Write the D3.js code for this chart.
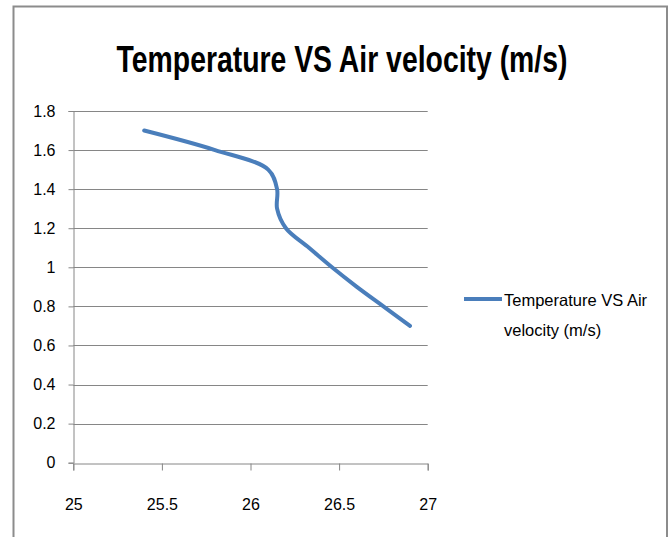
<!DOCTYPE html>
<html>
<head>
<meta charset="utf-8">
<script src="https://cdn.jsdelivr.net/npm/d3@7"></script>
<style>
  html, body { margin: 0; padding: 0; background: #fff; }
  svg { display: block; }
  text { font-family: "Liberation Sans", Arial, sans-serif; fill: #000; }
</style>
</head>
<body>
<svg id="chart" width="669" height="537"></svg>
<script>
const chartTitle = "Temperature VS Air velocity (m/s)";
const seriesName = "Temperature VS Air velocity (m/s)";
const legendLines = ["Temperature VS Air", "velocity (m/s)"];
const temperature = [25.4, 25.8, 26.1, 26.15, 26.15, 26.2, 26.33, 26.46, 26.6, 26.75, 26.9];
const airVelocity = [1.7, 1.6, 1.5, 1.4, 1.3, 1.2, 1.1, 1.0, 0.9, 0.8, 0.7];
const xTicks = [25, 25.5, 26, 26.5, 27];
const yTicks = [0, 0.2, 0.4, 0.6, 0.8, 1, 1.2, 1.4, 1.6, 1.8];

const svg = d3.select("#chart");
const plot = { left: 73.3, right: 427.7, top: 111, bottom: 462.7 };
const lineColor = "#4a7ebb";
const gridColor = "#868686";
const tickFont = "\"Liberation Sans\", Arial, sans-serif";

// outer chart border
svg.append("rect")
  .attr("x", 13.5).attr("y", 6.5)
  .attr("width", 653.5).attr("height", 540)
  .attr("fill", "#fff")
  .attr("stroke", "#8c8c8c").attr("stroke-width", 2);

const x = d3.scaleLinear().domain([25, 27]).range([plot.left, plot.right]);
const y = d3.scaleLinear().domain([0, 1.8]).range([plot.bottom, plot.top]);

// title (narrow, tall lettering like the reference)
const tg = svg.append("g");
const tt = tg.append("text")
  .attr("x", 0).attr("y", 0)
  .attr("text-anchor", "middle")
  .attr("font-size", 30)
  .attr("font-weight", "bold")
  .text(chartTitle);
const tLen = tt.node().getComputedTextLength();
tg.attr("transform", `translate(342,72) scale(${451 / tLen},1.26)`);

// gridlines
svg.append("g").selectAll("line")
  .data(yTicks.filter(d => d > 0))
  .join("line")
  .attr("x1", plot.left).attr("x2", plot.right)
  .attr("y1", d => Math.round(y(d)) + 0.5).attr("y2", d => Math.round(y(d)) + 0.5)
  .attr("stroke", gridColor).attr("stroke-width", 1);

// y axis
const yAxis = d3.axisLeft(y).tickValues(yTicks).tickSize(5).tickPadding(13)
  .tickFormat(d => String(d));
const gy = svg.append("g").attr("transform", `translate(${Math.round(plot.left) + 0.5},0)`).call(yAxis);
gy.select(".domain").attr("stroke", gridColor);
gy.selectAll(".tick line").attr("stroke", gridColor);
gy.selectAll(".tick text").attr("font-size", 16).attr("fill", "#000").attr("font-family", tickFont);

// x axis
const xAxis = d3.axisBottom(x).tickValues(xTicks).tickSize(7).tickPadding(28)
  .tickFormat(d => String(d));
const gx = svg.append("g").attr("transform", `translate(0,${Math.round(plot.bottom) + 0.5})`).call(xAxis);
gx.select(".domain").attr("stroke", gridColor);
gx.selectAll(".tick line").attr("stroke", gridColor);
gx.selectAll(".tick text").attr("font-size", 16).attr("fill", "#000").attr("font-family", tickFont);

// series line (smoothed like the spreadsheet chart)
const pts = temperature.map((t, i) => [t, airVelocity[i]]);
const line = d3.line()
  .x(d => x(d[0])).y(d => y(d[1]))
  .curve(d3.curveCatmullRom.alpha(0.5));
svg.append("path")
  .datum(pts)
  .attr("d", line)
  .attr("fill", "none")
  .attr("stroke", lineColor)
  .attr("stroke-width", 4)
  .attr("stroke-linecap", "round")
  .attr("stroke-linejoin", "round");

// legend
const lg = svg.append("g").attr("transform", "translate(464,299)");
lg.append("line").attr("x1", 0).attr("x2", 38).attr("y1", 0).attr("y2", 0)
  .attr("stroke", lineColor).attr("stroke-width", 4);
lg.selectAll("text.leg")
  .data(legendLines)
  .join("text")
  .attr("class", "leg")
  .attr("x", 40)
  .attr("y", (d, i) => 7 + i * 30)
  .attr("font-size", 16.5)
  .text(d => d);
lg.append("title").text(seriesName);
</script>
</body>
</html>
